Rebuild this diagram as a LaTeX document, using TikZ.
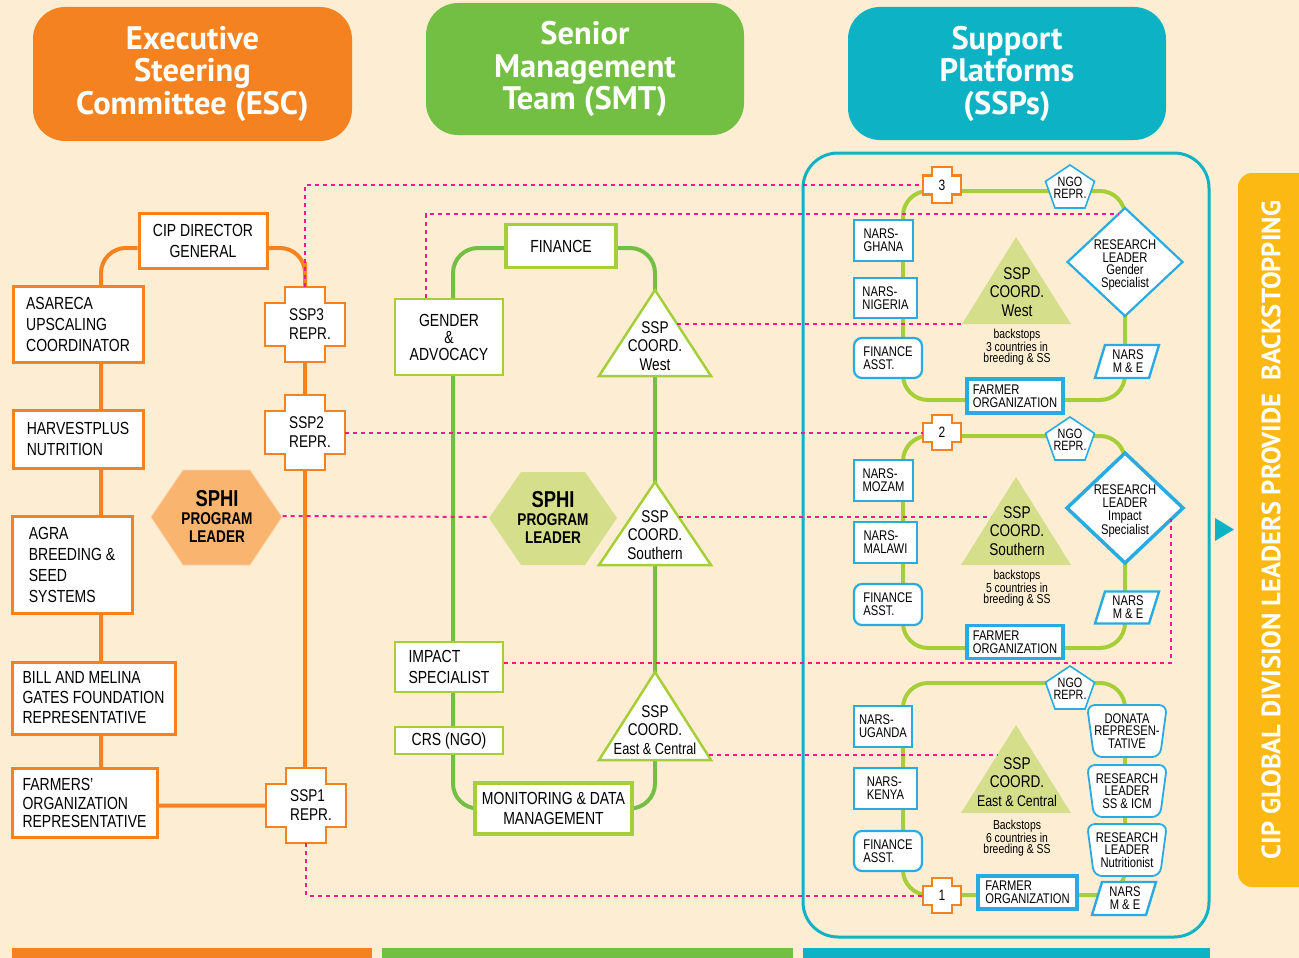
\documentclass[tikz,border=0pt]{standalone}
\usepackage{fontspec}
\setmainfont{Liberation Sans}[FakeStretch=0.8]
\newfontfamily\hdfont{PT Sans}
\definecolor{bgc}{HTML}{FDEED3}
\definecolor{orng}{HTML}{F58220}
\definecolor{ohex}{HTML}{F9B570}
\definecolor{grn}{HTML}{72BF44}
\definecolor{lgrn}{HTML}{A6CE39}
\definecolor{ghex}{HTML}{D5DF8B}
\definecolor{tealc}{HTML}{0DB2C5}
\definecolor{sblue}{HTML}{29ABE2}
\definecolor{pnk}{HTML}{EC1C8C}
\definecolor{ylw}{HTML}{FDB913}
\pgfdeclarelayer{back}
\pgfdeclarelayer{bg}
\pgfsetlayers{back,bg,main}
% cross shaped node: name, cx, cy, W half, H half, arm a, arm b, text, font ; text shifted by \crossdx
\newcommand\crossdx{0}
\newcommand\plusnode[9]{%
 \path[draw=orng, line width=2.4pt, fill=white] (#2,#3) ++(-#6,-#5) -- ++({2*#6},0) -- ++(0,{#5-#7}) -- ++({#4-#6},0) -- ++(0,{2*#7}) -- ++({#6-#4},0) -- ++(0,{#5-#7}) -- ++({-2*#6},0) -- ++(0,{#7-#5}) -- ++({#6-#4},0) -- ++(0,{-2*#7}) -- ++({#4-#6},0) -- cycle;
 \node[inner sep=0, minimum width={2*#4}, minimum height={2*#5}] (#1) at (#2,#3) {};
 \node[inner sep=0, align=left, font=#9] (#1t) at ({#2+\crossdx},#3) {#8};}
% parallelogram: name, cx, cy, w, h, text
\newcommand\pgramnode[6]{%
 \path[draw=sblue, line width=2.4pt, fill=white] (#2,#3) ++({-#4/2},{#5/2}) -- ++({#4-10},0) -- ++(10,{-#5}) -- ++({10-#4},0) -- cycle;
 \node[btext, align=center, minimum width=#4, minimum height=#5] (#1) at ({#2+1},#3) {#6};}
% tapered rounded box: name, cx, cy, w, h, text
\newcommand\tapnode[6]{%
 \path[draw=sblue, line width=1.8pt, fill=white, rounded corners=8] (#2,#3) ++({-#4/2},{-#5/2}) -- ++(#4,0) -- ++(-7,#5) -- ++({14-#4},0) -- cycle;
 \node[btext, align=center, minimum width=#4, minimum height=#5] (#1) at (#2,#3) {#6};}
% diamond: name, cx, cy, hw, hh, line width, text
\newcommand\dianode[7]{%
 \path[draw=sblue, fill=white, line width=#6] (#2,#3) ++(0,-#5) -- ++(#4,#5) -- ++(-#4,#5) -- ++(-#4,-#5) -- cycle;
 \node[btext, align=center, minimum width={2*#4}, minimum height={2*#5}] (#1) at (#2,{#3+3}) {#7};}
% pentagon: name, cx, top, text
\newcommand\pentnode[4]{%
 \path[draw=sblue, fill=white, line width=1.6pt] (#2,#3) -- ++(24.5,16.4) -- ++(-9.5,26.6) -- ++(-30,0) -- ++(-9.5,-26.6) -- cycle;
 \node[btext, align=center, font=\fontsize{13.5}{12.5}\selectfont] (#1) at (#2,{#3+23}) {#4};}
\begin{document}
\begin{tikzpicture}[x=1pt,y=-1pt,
  hdr/.style={rounded corners=32pt, text=white, font=\hdfont\bfseries\fontsize{32.5}{32.5}\selectfont, align=center, inner sep=0pt},
  obox/.style={draw=orng, line width=3pt, fill=white, inner sep=0pt, align=left, font=\fontsize{17.5}{21}\selectfont},
  gbox/.style={draw=lgrn, line width=2.2pt, fill=white, inner sep=0pt, align=center, font=\fontsize{17.5}{20.5}\selectfont},
  bbox/.style={draw=sblue, line width=2.2pt, fill=white, inner sep=0pt, align=left, font=\fontsize{14}{13}\selectfont},
  btext/.style={inner sep=0pt, font=\fontsize{14}{12.8}\selectfont},
  tri/.style={inner sep=0pt, align=center, font=\fontsize{17}{18.5}\selectfont},
  small/.style={inner sep=0pt, align=center, font=\fontsize{13}{11.5}\selectfont},
  hext/.style={inner sep=0pt, align=center, font=\bfseries\fontsize{17}{18}\selectfont},
  oline/.style={draw=orng, line width=4pt},
  gline/.style={draw=grn, line width=4pt},
  lline/.style={draw=lgrn, line width=4pt},
  pdash/.style={draw=pnk, line width=2pt, dash pattern=on 4pt off 4pt}]
\begin{pgfonlayer}{back}
\fill[bgc] (0,0) rectangle (1299,958);
\end{pgfonlayer}
\useasboundingbox (0,0) rectangle (1299,958);

% headers
\node[hdr, fill=orng, minimum width=319, minimum height=134] (esc) at (192.5,74) {Executive\\Steering\\Committee (ESC)};
\node[hdr, fill=grn, minimum width=318, minimum height=132] (smt) at (585,69) {Senior\\Management\\Team (SMT)};
\node[hdr, fill=tealc, minimum width=318, minimum height=133] (sspH) at (1007,73.5) {Support\\Platforms\\(SSPs)};

% bottom bars
\fill[orng] (12,948) rectangle (372,958);
\fill[grn] (382,948) rectangle (793,958);
\fill[tealc] (803,948) rectangle (1210,958);

% yellow side bar
\fill[ylw, rounded corners=14] (1238,173) rectangle (1330,887);
\node[rotate=90, text=white, font=\hdfont\bfseries\fontsize{26.5}{28}\selectfont] (side) at (1271,530) {CIP GLOBAL DIVISION LEADERS PROVIDE\ \ BACKSTOPPING};
\fill[tealc] (1215,518) -- (1234,529.5) -- (1215,541) -- cycle;

% SSP frame
\draw[tealc, line width=3pt, rounded corners=35] (803,153) rectangle (1209,937);

% ---------- ESC column ----------
\node[obox, align=center, minimum width=128, minimum height=55] (cip) at (203,240.5) {CIP DIRECTOR\\GENERAL};
\node[obox, minimum width=130, minimum height=76] (asareca) at (78,324.5) {ASARECA\\UPSCALING\\COORDINATOR};
\node[obox, minimum width=130, minimum height=58] (harvest) at (78,439) {HARVESTPLUS\\NUTRITION};
\node[obox, minimum width=120, minimum height=97] (agra) at (72,565) {AGRA\\BREEDING \&\\SEED\\SYSTEMS};
\node[obox, minimum width=163, minimum height=72, font=\fontsize{17.5}{20}\selectfont] (gates) at (93.5,698) {BILL AND MELINA\\GATES FOUNDATION\\REPRESENTATIVE};
\node[obox, minimum width=145, minimum height=69, font=\fontsize{17.5}{18.5}\selectfont] (farmers) at (84.5,803) {FARMERS'\\ORGANIZATION\\REPRESENTATIVE};
\renewcommand\crossdx{5}
\plusnode{ssp3}{305}{324.5}{40}{37.5}{20}{21.5}{SSP3\\REPR.}{\fontsize{17}{19}\selectfont}
\plusnode{ssp2}{305}{432.5}{40}{37.5}{20}{21.5}{SSP2\\REPR.}{\fontsize{17}{19}\selectfont}
\plusnode{ssp1}{306}{805.5}{40}{37.5}{20}{21.5}{SSP1\\REPR.}{\fontsize{17}{19}\selectfont}
\renewcommand\crossdx{0}
\path[fill=ohex, draw=ohex!60!white, line width=0.8pt] (151,517) -- (183,470) -- (250,470) -- (282,517) -- (250,565) -- (183,565) -- cycle;
\node[hext, minimum width=131] (sphiO) at (217,516) {{\fontsize{23}{20}\selectfont SPHI}\\PROGRAM\\LEADER};

\coordinate (ol) at (101,248);
\begin{pgfonlayer}{bg}
\draw[oline, rounded corners=25] (cip.west |- ol) -| (farmers.north -| ol);
\draw[oline, rounded corners=25] (farmers.east |- ssp1.center) -| (ssp3.north) |- (cip.east |- ol);
\end{pgfonlayer}

% ---------- SMT column ----------
\node[gbox, line width=3.5pt, minimum width=110, minimum height=43] (finance) at (561,246) {FINANCE};
\node[gbox, minimum width=108, minimum height=76, font=\fontsize{17.5}{17}\selectfont] (gender) at (449,337) {GENDER\\\&\\ADVOCACY};
\node[gbox, align=left, minimum width=108, minimum height=50] (impact) at (449,667) {IMPACT\\SPECIALIST};
\node[gbox, minimum width=108, minimum height=27] (crs) at (449,740.5) {CRS (NGO)};
\node[gbox, line width=3.5pt, minimum width=157, minimum height=51] (monitor) at (553.5,808.5) {MONITORING \& DATA\\MANAGEMENT};

\path[fill=white, draw=lgrn, line width=2.5pt] (655,290) -- (711,376) -- (599,376) -- cycle;
\node[tri] (smtW) at (655,346) {SSP\\COORD.\\West};
\path[fill=white, draw=lgrn, line width=2.5pt] (655,482) -- (711,565) -- (599,565) -- cycle;
\node[tri] (smtS) at (655,535) {SSP\\COORD.\\Southern};
\path[fill=white, draw=lgrn, line width=2.5pt] (655,672) -- (711,760) -- (599,760) -- cycle;
\node[tri] (smtE) at (655,730) {SSP\\COORD.\\{\fontsize{16}{18}\selectfont East \& Central}};
\path[fill=ghex] (489,518) -- (521,472) -- (585,472) -- (617,518) -- (585,565) -- (521,565) -- cycle;
\node[hext, minimum width=128] (sphiG) at (553,517) {{\fontsize{23}{20}\selectfont SPHI}\\PROGRAM\\LEADER};

\coordinate (gl) at (453,248);
\coordinate (gr) at (655,248);
\begin{pgfonlayer}{bg}
\draw[gline, rounded corners=25] (finance.west |- gl) -| (gl |- monitor.west) -- (monitor.west);
\draw[gline, rounded corners=25] (finance.east |- gr) -| (gr |- monitor.east) -- (monitor.east);
\end{pgfonlayer}

% ---------- SSP column ----------
\begin{pgfonlayer}{bg}
\draw[lline, rounded corners=25] (903,191) rectangle (1125,400);
\draw[lline, rounded corners=25] (903,436) rectangle (1125,648);
\draw[lline, rounded corners=25] (903,683) rectangle (1125,895);
\end{pgfonlayer}

% West platform
\fill[ghex] (1016,237) -- (1071,324) -- (962,324) -- cycle;
\node[tri] (sspW) at (1017,292) {SSP\\COORD.\\West};
\node[small] (bkW) at (1017,347) {backstops\\3 countries in\\breeding \& SS};
\plusnode{c3}{942}{185}{19}{18}{10}{9.5}{3}{\fontsize{15}{15}\selectfont}
\pentnode{ngoW}{1070}{165}{NGO\\REPR.}
\node[bbox, minimum width=59, minimum height=41] (ghana) at (883.5,240.5) {NARS-\\GHANA};
\node[bbox, minimum width=63, minimum height=40] (nigeria) at (885.5,298) {NARS-\\NIGERIA};
\node[bbox, rounded corners=8, minimum width=68, minimum height=40] (finW) at (888,358) {FINANCE\\ASST.};
\node[bbox, line width=3.5pt, minimum width=96, minimum height=34] (farmW) at (1015,396) {FARMER\\ORGANIZATION};
\pgramnode{nmeW}{1127}{361.5}{64}{33}{NARS\\M \& E}
\dianode{rlW}{1125}{262}{57.5}{54}{2.2pt}{RESEARCH\\LEADER\\Gender\\Specialist}

% Southern platform
\fill[ghex] (1016,477) -- (1071,565) -- (961,565) -- cycle;
\node[tri] (sspS) at (1017,531) {SSP\\COORD.\\Southern};
\node[small] (bkS) at (1017,588) {backstops\\5 countries in\\breeding \& SS};
\plusnode{c2}{942}{432.5}{19}{17.5}{10}{9.5}{2}{\fontsize{15}{15}\selectfont}
\pentnode{ngoS}{1070}{417}{NGO\\REPR.}
\node[bbox, minimum width=59, minimum height=41] (mozam) at (883.5,480.5) {NARS-\\MOZAM};
\node[bbox, minimum width=63, minimum height=41] (malawi) at (885.5,542.5) {NARS-\\MALAWI};
\node[bbox, rounded corners=8, minimum width=68, minimum height=41] (finS) at (888,604.5) {FINANCE\\ASST.};
\node[bbox, line width=3.5pt, minimum width=96, minimum height=33] (farmS) at (1015,642) {FARMER\\ORGANIZATION};
\pgramnode{nmeS}{1127}{607.5}{64}{32}{NARS\\M \& E}
\dianode{rlS}{1125}{508}{58}{55}{3.5pt}{RESEARCH\\LEADER\\Impact\\Specialist}

% East & Central platform
\fill[ghex] (1016,725) -- (1071,813) -- (961,813) -- cycle;
\node[tri] (sspE) at (1017,782) {SSP\\COORD.\\{\fontsize{15.5}{18}\selectfont East \& Central}};
\node[small] (bkE) at (1017,838) {Backstops\\6 countries in\\breeding \& SS};
\plusnode{c1}{942}{895.5}{19}{17.5}{10}{9.5}{1}{\fontsize{15}{15}\selectfont}
\pentnode{ngoE}{1070}{666}{NGO\\REPR.}
\node[bbox, minimum width=58, minimum height=41] (uganda) at (883,726.5) {NARS-\\UGANDA};
\node[bbox, minimum width=63, minimum height=41] (kenya) at (885.5,788.5) {NARS-\\KENYA};
\node[bbox, rounded corners=8, minimum width=68, minimum height=40] (finE) at (888,851) {FINANCE\\ASST.};
\node[bbox, line width=3.5pt, minimum width=99, minimum height=33] (farmE) at (1027.5,892.5) {FARMER\\ORGANIZATION};
\pgramnode{nmeE}{1124}{898.5}{64}{33}{NARS\\M \& E}
\tapnode{donata}{1127}{731}{80}{52}{DONATA\\REPRESEN-\\TATIVE}
\tapnode{rlss}{1127}{791}{80}{52}{RESEARCH\\LEADER\\SS \& ICM}
\tapnode{rlnut}{1127}{850}{80}{52}{RESEARCH\\LEADER\\Nutritionist}

% ---------- dashed links ----------
\coordinate (gd) at (426,0);
\coordinate (dWin) at (1119,214);
\coordinate (dSin) at (1171,519);
\coordinate (imp) at (1171,663);
\coordinate (smtWr) at (677,324);
\coordinate (sspWl) at (962,324);
\coordinate (smtSr) at (679,517);
\coordinate (sspSl) at (991,517);
\coordinate (smtEr) at (709,755);
\coordinate (sspEl) at (998,755);
\draw[pdash] (ssp3.north) |- (c3.west);
\draw[pdash] (gender.north -| gd) |- (dWin);
\draw[pdash] (smtWr) -- (sspWl);
\draw[pdash] (ssp2.east) -- (c2.west);
\draw[pdash] (sphiO.east) -- (sphiG.west);
\draw[pdash] (smtSr) -- (sspSl);
\draw[pdash] (impact.east |- imp) -| (dSin);
\draw[pdash] (smtEr) -- (sspEl);
\draw[pdash] (ssp1.south) |- (c1.west);
\end{tikzpicture}
\end{document}
